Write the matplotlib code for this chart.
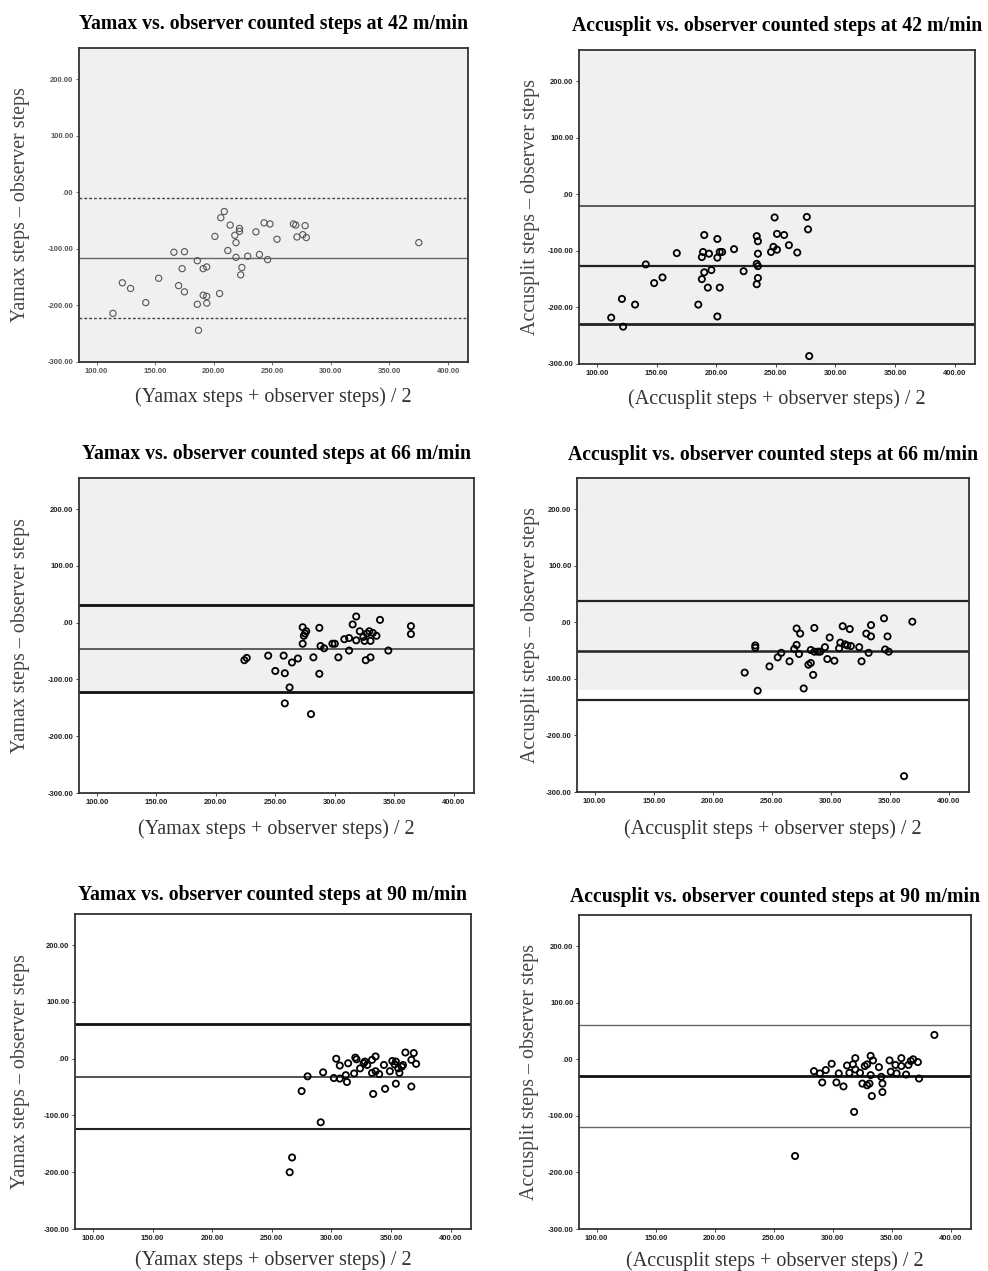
import matplotlib
matplotlib.use("Agg")
import matplotlib.pyplot as plt
from matplotlib.ticker import FuncFormatter

# ---- data ----
# Yamax, 42 m/min
yamax42_mean = [114, 122, 129, 142, 153, 166, 175, 173, 170, 175, 186, 191, 194, 191, 194,
                194, 186, 187, 205, 201, 206, 209, 212, 214, 218, 219, 219, 222, 222, 223,
                224, 229, 236, 239, 243, 246, 248, 254, 268, 270, 271, 276, 278, 279, 375]
yamax42_diff = [-214, -160, -170, -195, -152, -106, -105, -135, -165, -176, -121, -135, -132, -182, -184,
                -196, -198, -244, -179, -78, -45, -34, -103, -58, -76, -115, -89, -64, -69, -146,
                -133, -113, -70, -110, -54, -119, -56, -83, -56, -58, -79, -75, -59, -80, -89]
yamax42_loa = [-10, -117, -223]

# Accusplit, 42 m/min
accu42_mean = [112, 121, 122, 132, 141, 148, 155, 167, 185, 188, 188, 189, 190, 190, 193,
               194, 196, 201, 201, 201, 203, 203, 205, 215, 223, 234, 235, 235, 234, 235,
               235, 234, 246, 248, 251, 251, 249, 257, 261, 268, 276, 277, 278]
accu42_diff = [-218, -185, -234, -195, -124, -157, -147, -104, -195, -150, -111, -102, -72, -138, -165,
               -105, -134, -79, -112, -216, -102, -165, -102, -97, -136, -74, -83, -105, -123, -127,
               -148, -159, -102, -93, -98, -70, -41, -72, -90, -103, -40, -62, -286]
accu42_loa = [-21, -126, -229]

# Yamax, 66 m/min
yamax66_mean = [224, 226, 244, 250, 257, 258, 262, 258, 264, 269, 273, 273, 274, 276, 275,
                282, 280, 287, 288, 291, 287, 298, 300, 303, 308, 312, 312, 315, 318, 318,
                321, 324, 325, 326, 327, 329, 330, 330, 332, 335, 338, 345, 364, 364]
yamax66_diff = [-66, -62, -58, -85, -58, -89, -114, -142, -70, -63, -8, -37, -23, -15, -19,
                -61, -161, -9, -41, -45, -90, -37, -37, -61, -29, -27, -49, -3, 11, -31,
                -15, -25, -32, -66, -19, -15, -32, -61, -18, -23, 5, -49, -6, -20]
yamax66_loa = [32, -47, -122]

# Accusplit, 66 m/min
accu66_mean = [227, 236, 236, 238, 248, 255, 258, 265, 269, 271, 271, 274, 273, 277, 281,
               283, 283, 285, 286, 286, 289, 291, 295, 297, 299, 303, 307, 308, 310, 312,
               314, 317, 316, 324, 326, 330, 332, 334, 334, 345, 346, 348, 349, 362, 369]
accu66_diff = [-89, -41, -45, -121, -78, -62, -54, -69, -47, -40, -11, -20, -56, -117, -75,
               -72, -49, -93, -10, -52, -52, -52, -44, -65, -27, -68, -46, -36, -7, -39,
               -41, -42, -12, -44, -69, -20, -54, -5, -25, 7, -48, -25, -52, -272, 1]
accu66_loa = [37, -51, -138]
accu66_band = -119

# Yamax, 90 m/min
yamax90_mean = [265, 267, 275, 280, 291, 293, 302, 304, 307, 307, 312, 313, 314, 319, 320,
                321, 324, 327, 328, 330, 334, 337, 334, 335, 337, 340, 344, 345, 349, 351,
                353, 354, 354, 356, 357, 359, 360, 362, 367, 367, 369, 371]
yamax90_diff = [-200, -174, -57, -31, -112, -24, -34, 0, -12, -35, -29, -41, -8, -26, 2,
                -1, -17, -8, -5, -11, -2, 4, -25, -62, -22, -27, -11, -53, -22, -4,
                -10, -5, -44, -17, -25, -14, -11, 11, -2, -49, 10, -9]
yamax90_loa = [61, -32, -123]

# Accusplit, 90 m/min
accu90_mean = [268, 284, 289, 291, 294, 299, 303, 305, 309, 312, 314, 317, 318, 319, 319,
               323, 325, 327, 329, 329, 331, 332, 332, 333, 334, 339, 341, 342, 342, 348,
               349, 353, 354, 358, 358, 362, 364, 366, 368, 372, 373, 386]
accu90_diff = [-171, -21, -25, -41, -19, -8, -41, -25, -48, -11, -24, -9, -93, 2, -18,
               -24, -43, -12, -46, -9, -43, 6, -28, -65, -2, -14, -31, -43, -58, -2,
               -22, -10, -25, 2, -12, -27, -10, -3, 0, -5, -34, 43]
accu90_loa = [61, -29, -119]

titles = ["Yamax vs. observer counted steps at 42 m/min",
          "Accusplit vs. observer counted steps at 42 m/min",
          "Yamax vs. observer counted steps at 66 m/min",
          "Accusplit vs. observer counted steps at 66 m/min",
          "Yamax vs. observer counted steps at 90 m/min",
          "Accusplit vs. observer counted steps at 90 m/min"]
ylabels = ["Yamax steps \u2013 observer steps", "Accusplit steps \u2013 observer steps"]
xlabels = ["(Yamax steps + observer steps) / 2", "(Accusplit steps + observer steps) / 2"]
xticks = [100, 150, 200, 250, 300, 350, 400]
yticks = [200, 100, 0, -100, -200, -300]

W, H = 988, 1271
fig = plt.figure(figsize=(W / 100, H / 100), dpi=100)


def px_axes(left, top, width, height):
    return fig.add_axes([left / W, 1 - (top + height) / H, width / W, height / H])


def fmt(v, pos):
    s = "%.2f" % v
    if s.startswith("0."):
        s = s[1:]
    return s


def panel(rect, xs, ys, loa, title, ylab, xlab, fill_to, line_styles, mk,
          ylab_off, xlab_off, title_pad, tick_col="#222"):
    ax = px_axes(*rect)
    ax.set_xlim(85, 417)
    ax.set_ylim(-300, 255)
    if fill_to is not None:
        ax.axhspan(fill_to, 255, color="#f0f0f0", zorder=0, lw=0)
    for val, (ls, lw, col) in zip(loa, line_styles):
        ax.axhline(val, ls=ls, lw=lw, color=col, zorder=1)
    ax.scatter(xs, ys, s=mk[0], facecolors="none", edgecolors=mk[1],
               linewidths=mk[2], zorder=3)
    ax.set_xticks(xticks)
    ax.set_yticks(yticks)
    ax.xaxis.set_major_formatter(FuncFormatter(fmt))
    ax.yaxis.set_major_formatter(FuncFormatter(fmt))
    ax.tick_params(labelsize=5.5, length=2.5, width=0.6, pad=1.5, colors=tick_col)
    for lbl in ax.get_xticklabels() + ax.get_yticklabels():
        lbl.set_fontfamily("Liberation Sans")
        lbl.set_fontweight("bold")
    for sp in ax.spines.values():
        sp.set_linewidth(1.3)
        sp.set_color("#333")
    ax.set_title(title, fontfamily="Liberation Serif", fontweight="bold",
                 fontsize=14.2, pad=title_pad * 0.72)
    ax.set_ylabel(ylab, fontfamily="Liberation Serif", fontsize=14.4, color="#444")
    ax.set_xlabel(xlab, fontfamily="Liberation Serif", fontsize=14.5, color="#333")
    ax.yaxis.set_label_coords(-ylab_off / rect[2], 0.5)
    ax.xaxis.set_label_coords(0.5, -xlab_off / rect[3])
    return ax


thin_marker = (20, "#555", 0.8)
bold_marker = (20, "black", 1.3)

panel((79, 48, 389, 314), yamax42_mean, yamax42_diff, yamax42_loa, titles[0],
      ylabels[0], xlabels[0], -300,
      [((0, (2, 1.5)), 1.0, "#444"), ("-", 1.0, "#666"), ((0, (2, 1.5)), 1.0, "#444")],
      thin_marker, 49, 25, 19, tick_col="#555")
panel((579, 50, 396, 314), accu42_mean, accu42_diff, accu42_loa, titles[1],
      ylabels[1], xlabels[1], -300,
      [("-", 1.1, "#333"), ("-", 1.6, "#222"), ("-", 2.0, "#222")],
      bold_marker, 39, 25, 19)
panel((79, 478, 395, 315), yamax66_mean, yamax66_diff, yamax66_loa, titles[2],
      ylabels[0], xlabels[0], yamax66_loa[2],
      [("-", 2.0, "#111"), ("-", 1.2, "#444"), ("-", 2.0, "#111")],
      bold_marker, 49, 26, 19)
panel((577, 478, 392, 314), accu66_mean, accu66_diff, accu66_loa, titles[3],
      ylabels[1], xlabels[1], accu66_band,
      [("-", 1.6, "#222"), ("-", 1.8, "#222"), ("-", 1.6, "#222")],
      bold_marker, 37, 27, 18)
panel((75, 914, 396, 315), yamax90_mean, yamax90_diff, yamax90_loa, titles[4],
      ylabels[0], xlabels[0], None,
      [("-", 2.0, "#111"), ("-", 1.2, "#333"), ("-", 1.5, "#222")],
      bold_marker, 45, 21, 14)
panel((579, 915, 392, 314), accu90_mean, accu90_diff, accu90_loa, titles[5],
      ylabels[1], xlabels[1], None,
      [("-", 1.0, "#666"), ("-", 2.0, "#111"), ("-", 1.0, "#666")],
      bold_marker, 40, 22, 13)

fig.savefig("out.png", dpi=100, facecolor="white")
